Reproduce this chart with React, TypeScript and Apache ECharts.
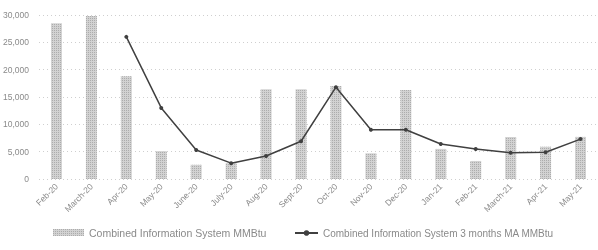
import React, { useEffect, useRef } from "react";
import * as echarts from "echarts";

const categories = [
  "Feb-20", "March-20", "Apr-20", "May-20", "June-20", "July-20", "Aug-20", "Sept-20",
  "Oct-20", "Nov-20", "Dec-20", "Jan-21", "Feb-21", "March-21", "Apr-21", "May-21",
];
const barValues = [28500, 29800, 18800, 5100, 2600, 2900, 16400, 16400, 17000, 4700, 16300, 5500, 3300, 7700, 5900, 7700];
const lineValues = [null, null, 26000, 13000, 5300, 2900, 4200, 6900, 16800, 9000, 9000, 6400, 5500, 4800, 4900, 7300];
const barName = "Combined Information System MMBtu";
const lineName = "Combined Information System 3 months MA MMBtu";

export default function App() {
  const ref = useRef<HTMLDivElement>(null);
  useEffect(() => {
    const chart = echarts.init(ref.current!, null, { renderer: "svg" });
    const textColor = "#8a8a8a";
    chart.setOption({
      animation: false,
      grid: { left: 37, top: 15, bottom: 71, width: 568 },
      legend: [
        {
          bottom: 7,
          left: 48,
          itemWidth: 31,
          itemHeight: 7,
          textStyle: { color: textColor, fontSize: 10.5, fontFamily: "Liberation Sans" },
          data: [{ name: barName, icon: "rect" }],
        },
        {
          bottom: 7,
          left: 289,
          itemWidth: 23,
          itemHeight: 7,
          textStyle: { color: textColor, fontSize: 10, fontFamily: "Liberation Sans" },
          data: [{ name: lineName }],
        },
      ],
      xAxis: {
        type: "category",
        data: categories,
        axisLine: { show: false },
        axisTick: { show: false },
        axisLabel: { rotate: 45, color: textColor, fontSize: 8.5, fontFamily: "Liberation Sans", margin: 6, interval: 0 },
      },
      yAxis: {
        type: "value",
        min: 0,
        max: 30000,
        interval: 5000,
        axisLine: { show: false },
        axisTick: { show: false },
        axisLabel: { color: textColor, fontSize: 8.5, fontFamily: "Liberation Sans", margin: 10, formatter: (v: number) => v.toLocaleString("en-US") },
        splitLine: { lineStyle: { color: "#cfcfcf", type: [1, 3], width: 1 } },
      },
      series: [
        {
          name: barName,
          type: "bar",
          data: barValues,
          barWidth: 11,
          itemStyle: {
            color: "#d2d2d2",
            decal: { symbol: "rect", symbolSize: 0.9, dashArrayX: [1, 1], dashArrayY: [1, 1], color: "#a8a8a8" },
          },
        },
        {
          name: lineName,
          type: "line",
          data: lineValues,
          symbol: "circle",
          symbolSize: 4,
          lineStyle: { color: "#404040", width: 1.5 },
          itemStyle: { color: "#404040" },
        },
      ],
    });
    return () => chart.dispose();
  }, []);
  return <div ref={ref} style={{ position: "fixed", left: 0, top: 0, width: 598, height: 250 }} />;
}
